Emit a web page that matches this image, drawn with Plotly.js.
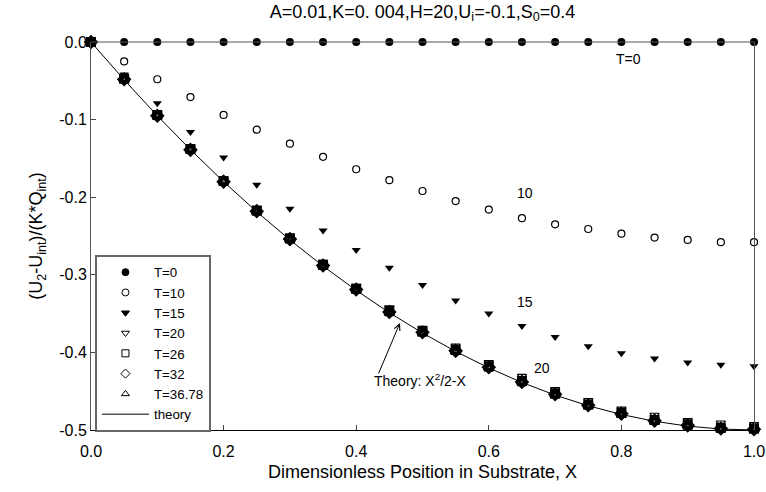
<!DOCTYPE html>
<html>
<head>
<meta charset="utf-8">
<script src="https://cdn.plot.ly/plotly-3.0.1.min.js"></script>
<style>html,body{margin:0;padding:0;background:#fff}#chart{width:766px;height:492px}</style>
</head>
<body>
<div id="chart"></div>
<script>
// X positions
var xPos = [0,0.05,0.1,0.15,0.2,0.25,0.3,0.35,0.4,0.45,0.5,0.55,0.6,0.65,0.7,0.75,0.8,0.85,0.9,0.95,1.0];
// Series values
var yT0  = [0,0,0,0,0,0,0,0,0,0,0,0,0,0,0,0,0,0,0,0,0];
var yT10 = [0,-0.025,-0.048,-0.071,-0.094,-0.113,-0.131,-0.148,-0.164,-0.178,-0.192,-0.205,-0.216,-0.227,-0.235,-0.241,-0.247,-0.252,-0.255,-0.258,-0.258];
var yT15 = [0,-0.042,-0.079,-0.116,-0.149,-0.184,-0.215,-0.243,-0.268,-0.291,-0.313,-0.333,-0.350,-0.366,-0.380,-0.392,-0.401,-0.408,-0.413,-0.416,-0.418];
var yT20 = [0,-0.046,-0.093,-0.137,-0.178,-0.215,-0.251,-0.284,-0.315,-0.343,-0.369,-0.392,-0.413,-0.431,-0.448,-0.462,-0.473,-0.481,-0.488,-0.491,-0.493];
var yT26 = [0,-0.047,-0.094,-0.138,-0.179,-0.217,-0.253,-0.287,-0.318,-0.346,-0.373,-0.397,-0.418,-0.437,-0.453,-0.467,-0.478,-0.487,-0.493,-0.497,-0.498];
var yT32 = [0,-0.048,-0.095,-0.139,-0.180,-0.218,-0.254,-0.288,-0.319,-0.348,-0.374,-0.398,-0.419,-0.438,-0.454,-0.468,-0.479,-0.488,-0.494,-0.498,-0.499];
var yT3678 = [0,-0.049,-0.095,-0.139,-0.180,-0.219,-0.255,-0.289,-0.320,-0.349,-0.375,-0.399,-0.420,-0.439,-0.455,-0.469,-0.480,-0.489,-0.495,-0.499,-0.500];
var yTheory = [0,-0.04875,-0.095,-0.13875,-0.18,-0.21875,-0.255,-0.28875,-0.32,-0.34875,-0.375,-0.39875,-0.42,-0.43875,-0.455,-0.46875,-0.48,-0.48875,-0.495,-0.49875,-0.5];
var seriesNames = ['T=0','T=10','T=15','T=20','T=26','T=32','T=36.78','theory'];
var xTickVals = [0,0.2,0.4,0.6,0.8,1.0];
var xTickText = ['0.0','0.2','0.4','0.6','0.8','1.0'];
var yTickVals = [0,-0.1,-0.2,-0.3,-0.4,-0.5];
var yTickText = ['0.0','-0.1','-0.2','-0.3','-0.4','-0.5'];

var FONT = 'Liberation Sans, Arial, sans-serif';
function sc(name, y, symbol, size, lw) {
  return {
    x: xPos, y: y, name: name, type: 'scatter', mode: 'markers', showlegend: false,
    marker: {symbol: symbol, size: size, color: '#000', line: {color: '#000', width: lw}},
    cliponaxis: false
  };
}
var traces = [
  {x: xPos, y: yTheory, name: 'theory', type: 'scatter', mode: 'lines', line: {color: '#000', width: 1}, showlegend: false},
  sc('T=36.78', yT3678, 'triangle-up-open', 8, 3),
  sc('T=32', yT32, 'diamond-open', 8, 3),
  sc('T=26', yT26, 'square-open', 7, 3),
  sc('T=20', yT20, 'triangle-down-open', 8, 1.2),
  sc('T=15', yT15, 'triangle-down', 8, 0),
  sc('T=10', yT10, 'circle-open', 7, 1.2),
  sc('T=0', yT0, 'circle', 8, 0)
];
// legend entries (thin outlines as in the figure's legend)
var legSym = ['circle','circle-open','triangle-down','triangle-down-open','square-open','diamond-open','triangle-up-open'];
for (var i = 0; i < 7; i++) {
  traces.push({x: [null], y: [null], name: seriesNames[i], type: 'scatter', mode: 'markers', showlegend: true,
    marker: {symbol: legSym[i], size: 7, color: '#000', line: {color: '#000', width: 1}}});
}
traces.push({x: [null], y: [null], name: seriesNames[7], type: 'scatter', mode: 'lines', showlegend: true,
  line: {color: '#000', width: 1}});

var layout = {
  width: 766, height: 492,
  margin: {l: 91, r: 12, t: 42, b: 62},
  paper_bgcolor: '#fff', plot_bgcolor: '#fff',
  font: {family: FONT, size: 16, color: '#000'},
  showlegend: true,
  title: {text: 'A=0.01,K=0. 004,H=20,U<sub>i</sub>=-0.1,S<sub>0</sub>=0.4', x: 0.5, xref: 'paper', xanchor: 'center',
    y: 0.977, yanchor: 'middle', font: {family: FONT, size: 18, color: '#000'}},
  xaxis: {range: [0, 1], tickvals: xTickVals, ticktext: xTickText, ticks: 'inside', ticklen: 5, tickcolor: '#444',
    showline: true, linecolor: '#000', linewidth: 1, mirror: false, showgrid: false, zeroline: false,
    tickfont: {size: 16}, ticklabelstandoff: 7,
    title: {text: 'Dimensionless Position in Substrate, X', font: {size: 18}, standoff: 6}},
  yaxis: {range: [-0.5, 0], tickvals: yTickVals, ticktext: yTickText, ticks: 'inside', ticklen: 5, tickcolor: '#444',
    showline: true, linecolor: '#555', linewidth: 1, mirror: true, showgrid: false, zeroline: false,
    tickfont: {size: 16},
    title: {text: '(U<sub>2</sub>-U<sub>int</sub>)/(K*Q<sub>int</sub>)', font: {size: 18}, standoff: 11}},
  legend: {x: 0.006, y: 0.451, xanchor: 'left', yanchor: 'top', bgcolor: '#fff', bordercolor: '#666', borderwidth: 2,
    font: {family: FONT, size: 13.3}, tracegroupgap: 0, itemwidth: 47},
  shapes: [{type: 'line', xref: 'paper', yref: 'paper', x0: 0, x1: 1, y0: 1, y1: 1, line: {color: '#555', width: 1}}],
  annotations: [
    {x: 0.81, y: -0.022, text: 'T=0', showarrow: false, font: {size: 14}},
    {x: 0.655, y: -0.195, text: '10', showarrow: false, font: {size: 14}},
    {x: 0.655, y: -0.335, text: '15', showarrow: false, font: {size: 14}},
    {x: 0.68, y: -0.42, text: '20', showarrow: false, font: {size: 14}},
    {x: 0.496, y: -0.4356, text: 'Theory: X<sup>2</sup>/2-X', showarrow: false, font: {size: 14}},
    {x: 0.466, y: -0.362, ax: -22, ay: 52, text: '', showarrow: true, arrowhead: 5, arrowsize: 1.2, arrowwidth: 1, arrowcolor: '#000'}
  ]
};
Plotly.newPlot('chart', traces, layout, {displayModeBar: false, staticPlot: true});
</script>
</body>
</html>
